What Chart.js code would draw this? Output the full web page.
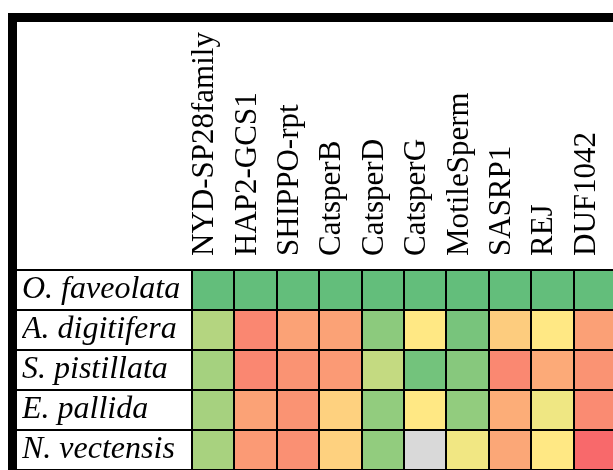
<!DOCTYPE html>
<html>
<head>
<meta charset="utf-8">
<script src="https://cdn.jsdelivr.net/npm/chart.js@4.4.1/dist/chart.umd.min.js"></script>
<style>
  html, body { margin: 0; padding: 0; background: #fff; overflow: hidden; width: 613px; height: 470px; }
  #frame { position: absolute; left: 8px; top: 13px; border: 9px solid #000; width: 610px; height: 460px; background: #fff; }
  #frame canvas { display: block; }
</style>
</head>
<body>
<div id="frame"><canvas id="heat" width="610" height="460"></canvas></div>
<script>
// Sperm-related protein families (columns) and species (rows)
const genes = ['NYD-SP28family', 'HAP2-GCS1', 'SHIPPO-rpt', 'CatsperB', 'CatsperD',
               'CatsperG', 'MotileSperm', 'SASRP1', 'REJ', 'DUF1042'];
const species = ['O. faveolata', 'A. digitifera', 'S. pistillata', 'E. pallida', 'N. vectensis'];

// Relative divergence score per family (0 = reference, 1 = most divergent; null = absent)
const oFaveolata  = [0, 0, 0, 0, 0, 0, 0, 0, 0, 0];
const aDigitifera = [0.26, 0.885, 0.78, 0.78, 0.13, 0.51, 0.067, 0.62, 0.51, 0.79];
const sPistillata = [0.21, 0.885, 0.84, 0.81, 0.31, 0.05, 0.115, 0.88, 0.75, 0.84];
const ePallida    = [0.215, 0.78, 0.84, 0.60, 0.15, 0.51, 0.15, 0.74, 0.45, 0.87];
const nVectensis  = [0.22, 0.81, 0.85, 0.60, 0.15, null, 0.455, 0.76, 0.51, 1.0];

const rows = [oFaveolata, aDigitifera, sPistillata, ePallida, nVectensis];

// Three-colour scale: green (low) -> yellow (mid) -> red (high)
const LOW = [99, 190, 123], MID = [255, 235, 132], HIGH = [248, 105, 107];
const MISSING = '#D9D9D9';
function scaleColor(v) {
  if (v === null || v === undefined) return MISSING;
  const [a, b, t] = v <= 0.5 ? [LOW, MID, v / 0.5] : [MID, HIGH, (v - 0.5) / 0.5];
  return 'rgb(' + a.map((c, i) => Math.round(c + (b[i] - c) * t)).join(',') + ')';
}

const serif = '"Liberation Serif", "Times New Roman", serif';

new Chart(document.getElementById('heat'), {
  type: 'bar',
  data: {
    labels: genes,
    datasets: rows.map((vals, r) => ({
      label: species[r],
      data: vals.map(() => [r, r + 1]),
      backgroundColor: vals.map(scaleColor),
      borderWidth: 0,
      categoryPercentage: 1,
      barPercentage: 1,
      grouped: false
    }))
  },
  options: {
    responsive: false,
    animation: false,
    events: [],
    layout: { padding: { left: 5, top: 0, right: 11, bottom: 12 } },
    plugins: { legend: { display: false }, tooltip: { enabled: false } },
    scales: {
      x: {
        type: 'category',
        position: 'top',
        offset: true,
        grid: { offset: true, color: '#000', lineWidth: 2, drawTicks: false, z: 1 },
        border: { display: false },
        ticks: {
          autoSkip: false, minRotation: 90, maxRotation: 90,
          padding: 14, labelOffset: 29, color: '#000',
          font: { family: serif, size: 31 }
        },
        afterFit: s => { s.height = 248; s.paddingLeft = 0; s.paddingRight = 0; }
      },
      y: { type: 'linear', min: 0, max: 5, reverse: true, display: false },
      rows: {
        type: 'category',
        labels: species,
        position: 'left',
        offset: true,
        grid: { offset: true, color: '#000', lineWidth: 2, drawTicks: true, tickLength: 175, tickColor: '#000', tickWidth: 2, z: 1 },
        border: { display: false },
        ticks: {
          autoSkip: false, crossAlign: 'far', padding: 0, color: '#000',
          font: { family: serif, size: 32, style: 'italic' }
        },
        afterFit: s => { s.width = 170; s.paddingTop = 0; s.paddingBottom = 0; }
      }
    }
  }
});
</script>
</body>
</html>
